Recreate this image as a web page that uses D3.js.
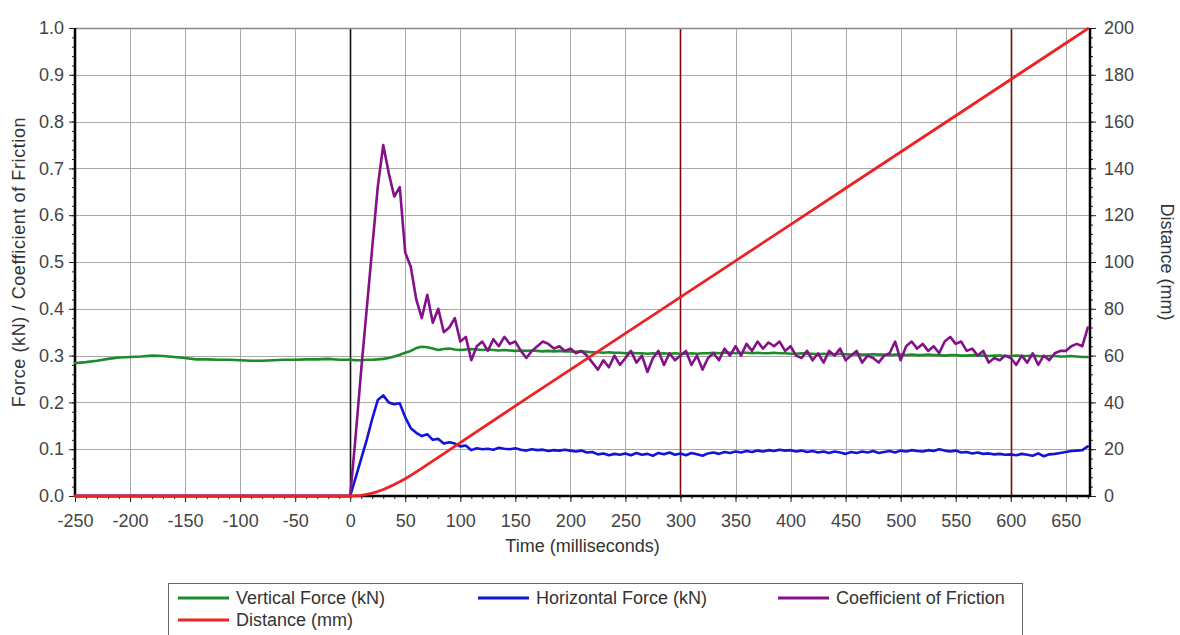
<!DOCTYPE html>
<html>
<head>
<meta charset="utf-8">
<script src="https://cdn.jsdelivr.net/npm/d3@7"></script>
<style>
  html, body { margin: 0; padding: 0; background: #fff; }
  svg { display: block; font-family: "Liberation Sans", Arial, sans-serif; }
</style>
</head>
<body>
<svg id="chart" width="1180" height="635"></svg>
<script>
// Sample times (ms) shared by the force and friction traces
const timeMs = [
  -250,-240,-230,-220,-210,-200,-190,-180,-170,-160,-150,-140,-130,-120,-110,-100,-90,-80,-70,-60,-50,-40,-30,-20,-10,
  0,
  5,10,15,20,25,30,35,40,45,50,55,60,65,70,75,80,85,90,95,100,
  105,110,115,120,125,130,135,140,145,150,155,160,165,170,175,180,185,190,195,200,
  205,210,215,220,225,230,235,240,245,250,255,260,265,270,275,280,285,290,295,300,
  305,310,315,320,325,330,335,340,345,350,355,360,365,370,375,380,385,390,395,400,
  405,410,415,420,425,430,435,440,445,450,455,460,465,470,475,480,485,490,495,500,
  505,510,515,520,525,530,535,540,545,550,555,560,565,570,575,580,585,590,595,600,
  605,610,615,620,625,630,635,640,645,650,655,660,665,670
];

// Vertical force (kN)
const verticalForce = [
  0.284,0.286,0.289,0.293,0.296,0.297,0.298,0.300,0.299,0.297,0.295,0.292,0.292,0.291,0.291,0.290,0.289,0.289,0.290,0.291,0.291,0.292,0.292,0.293,0.291,
  0.291,
  0.290,0.290,0.291,0.291,0.292,0.293,0.295,0.298,0.302,0.306,0.310,0.316,0.319,0.318,0.315,0.312,0.314,0.315,0.313,0.312,
  0.313,0.314,0.313,0.312,0.313,0.312,0.311,0.312,0.311,0.310,0.311,0.310,0.311,0.310,0.309,0.310,0.309,0.310,0.309,0.309,
  0.308,0.309,0.308,0.307,0.307,0.306,0.307,0.306,0.306,0.305,0.306,0.305,0.305,0.304,0.305,0.304,0.305,0.304,0.305,0.304,
  0.304,0.305,0.304,0.305,0.305,0.306,0.305,0.306,0.306,0.305,0.306,0.306,0.305,0.306,0.305,0.305,0.306,0.305,0.305,0.304,
  0.304,0.305,0.304,0.304,0.303,0.304,0.303,0.303,0.304,0.303,0.302,0.303,0.302,0.302,0.303,0.302,0.302,0.301,0.302,0.302,
  0.301,0.302,0.301,0.301,0.302,0.301,0.301,0.300,0.301,0.301,0.300,0.300,0.301,0.300,0.300,0.299,0.300,0.300,0.299,0.299,
  0.300,0.299,0.299,0.300,0.299,0.298,0.299,0.299,0.298,0.298,0.299,0.298,0.297,0.297
];

// Horizontal force (kN)
const horizontalForce = [
  0,0,0,0,0,0,0,0,0,0,0,0,0,0,0,0,0,0,0,0,0,0,0,0,0,
  0,
  0.040,0.080,0.120,0.165,0.205,0.215,0.200,0.196,0.198,0.168,0.145,0.135,0.128,0.132,0.120,0.122,0.112,0.115,0.112,0.106,
  0.108,0.098,0.102,0.100,0.101,0.099,0.103,0.101,0.100,0.102,0.099,0.097,0.100,0.098,0.099,0.096,0.098,0.097,0.099,0.097,
  0.095,0.097,0.093,0.094,0.089,0.091,0.087,0.090,0.088,0.091,0.087,0.092,0.088,0.090,0.086,0.092,0.089,0.093,0.088,0.091,
  0.087,0.092,0.089,0.086,0.091,0.093,0.090,0.094,0.092,0.095,0.093,0.096,0.094,0.097,0.095,0.098,0.096,0.099,0.097,0.098,
  0.095,0.097,0.094,0.096,0.093,0.095,0.092,0.095,0.093,0.090,0.094,0.092,0.095,0.093,0.096,0.092,0.094,0.096,0.093,0.097,
  0.095,0.098,0.096,0.095,0.098,0.096,0.100,0.097,0.095,0.097,0.093,0.094,0.091,0.093,0.090,0.091,0.089,0.090,0.088,0.089,
  0.087,0.090,0.088,0.086,0.091,0.085,0.089,0.090,0.092,0.094,0.096,0.097,0.098,0.106
];

// Coefficient of friction
const frictionCoef = [
  0,0,0,0,0,0,0,0,0,0,0,0,0,0,0,0,0,0,0,0,0,0,0,0,0,
  0,
  0.13,0.27,0.40,0.53,0.66,0.75,0.69,0.64,0.66,0.52,0.49,0.42,0.38,0.43,0.37,0.40,0.35,0.36,0.38,0.33,
  0.34,0.29,0.32,0.33,0.31,0.335,0.32,0.34,0.325,0.33,0.31,0.295,0.31,0.32,0.33,0.325,0.315,0.32,0.31,0.315,
  0.305,0.31,0.30,0.285,0.27,0.29,0.275,0.30,0.28,0.295,0.31,0.285,0.30,0.265,0.295,0.31,0.28,0.305,0.29,0.30,
  0.31,0.28,0.30,0.27,0.295,0.305,0.29,0.315,0.30,0.32,0.30,0.325,0.31,0.33,0.315,0.328,0.32,0.33,0.31,0.32,
  0.30,0.295,0.31,0.29,0.305,0.285,0.31,0.30,0.315,0.29,0.30,0.31,0.285,0.30,0.295,0.285,0.30,0.305,0.33,0.29,
  0.32,0.33,0.315,0.325,0.31,0.32,0.305,0.33,0.34,0.325,0.33,0.31,0.315,0.30,0.31,0.285,0.295,0.29,0.30,0.295,
  0.28,0.30,0.285,0.305,0.28,0.30,0.29,0.305,0.31,0.31,0.32,0.325,0.32,0.36
];

// Distance travelled (mm) on its own time base
const distanceTimeMs = [-250,0,5,10,15,20,25,30,35,40,45,50,55,60,65,70,80,100,150,200,250,300,350,400,450,500,550,600,650,670];
const distanceMm     = [0,0,0.1,0.3,0.7,1.2,1.9,2.8,3.8,4.9,6.1,7.4,8.8,10.3,11.8,13.4,16.5,22.8,38.5,54,69.5,85,100.5,116,131.5,147,162.5,178,193.5,199.7];

// Axis ticks and marker times
const timeTicks = [-250,-200,-150,-100,-50,0,50,100,150,200,250,300,350,400,450,500,550,600,650];
const forceTicks = [0,0.1,0.2,0.3,0.4,0.5,0.6,0.7,0.8,0.9,1.0];
const distanceTicks = [0,20,40,60,80,100,120,140,160,180,200];
const markerTimes = [0,300,600];

const legendItems = [
  { label: "Vertical Force (kN)", color: "#1f8a2a" },
  { label: "Horizontal Force (kN)", color: "#1414d8" },
  { label: "Coefficient of Friction", color: "#85118a" },
  { label: "Distance (mm)", color: "#ee2222" }
];

const svg = d3.select("#chart");
const W = 1180, H = 635;
const L = 75, R = 1090, T = 28, B = 496;

svg.append("rect").attr("width", W).attr("height", H).attr("fill", "#fff");

const x = d3.scaleLinear().domain([-250, 672]).range([L, R]);
const yF = d3.scaleLinear().domain([0, 1]).range([B, T]);
const yD = d3.scaleLinear().domain([0, 200]).range([B, T]);

// Grid
const grid = svg.append("g").attr("stroke", "#a8a8a8").attr("stroke-width", 1);
grid.selectAll("line.v").data(timeTicks.filter(t => t > -250 && markerTimes.indexOf(t) < 0))
  .enter().append("line")
  .attr("x1", d => Math.round(x(d)) + 0.5).attr("x2", d => Math.round(x(d)) + 0.5)
  .attr("y1", T).attr("y2", B);
grid.selectAll("line.h").data(forceTicks.filter(v => v > 0))
  .enter().append("line")
  .attr("x1", L).attr("x2", R)
  .attr("y1", d => Math.round(yF(d)) + 0.5).attr("y2", d => Math.round(yF(d)) + 0.5);

// Event markers
svg.append("g").selectAll("line").data(markerTimes).enter().append("line")
  .attr("x1", d => Math.round(x(d)) + 0.5).attr("x2", d => Math.round(x(d)) + 0.5)
  .attr("y1", T).attr("y2", B)
  .attr("stroke", d => d === 0 ? "#111" : "#7a0a0a")
  .attr("stroke-width", 1.6);

// Axes
const tickStyle = g => {
  g.select(".domain").remove();
  g.selectAll("text").attr("fill", "#444").style("font-size", "18px");
  g.selectAll("line").attr("stroke", "#222");
};
const plainInt = d => String(d);   // hyphen-minus for negative times

const xMinor = d3.range(-250, 671, 10);
svg.append("g").attr("transform", `translate(0,${B})`)
  .call(d3.axisBottom(x).tickValues(xMinor).tickSize(3).tickFormat(""))
  .call(tickStyle);
svg.append("g").attr("transform", `translate(0,${B})`)
  .call(d3.axisBottom(x).tickValues(timeTicks).tickSize(6).tickPadding(12).tickFormat(plainInt))
  .call(tickStyle);

svg.append("g").attr("transform", `translate(${L},0)`)
  .call(d3.axisLeft(yF).tickValues(d3.range(0, 1.001, 0.02)).tickSize(3).tickFormat(""))
  .call(tickStyle);
svg.append("g").attr("transform", `translate(${L},0)`)
  .call(d3.axisLeft(yF).tickValues(forceTicks).tickSize(6).tickPadding(5).tickFormat(d3.format(".1f")))
  .call(tickStyle);

svg.append("g").attr("transform", `translate(${R},0)`)
  .call(d3.axisRight(yD).tickValues(d3.range(0, 201, 4)).tickSize(3).tickFormat(""))
  .call(tickStyle);
svg.append("g").attr("transform", `translate(${R},0)`)
  .call(d3.axisRight(yD).tickValues(distanceTicks).tickSize(6).tickPadding(8).tickFormat(plainInt))
  .call(tickStyle);

// Frame
svg.append("line").attr("x1", L).attr("x2", R).attr("y1", T + 0.5).attr("y2", T + 0.5)
  .attr("stroke", "#888").attr("stroke-width", 1.5);
svg.append("line").attr("x1", L).attr("x2", L).attr("y1", T).attr("y2", B + 1)
  .attr("stroke", "#000").attr("stroke-width", 2.5);
svg.append("line").attr("x1", R).attr("x2", R).attr("y1", T).attr("y2", B + 1)
  .attr("stroke", "#000").attr("stroke-width", 2.5);
svg.append("line").attr("x1", L).attr("x2", R + 1).attr("y1", B).attr("y2", B)
  .attr("stroke", "#000").attr("stroke-width", 2.5);

// Traces
const plot = svg.append("g").attr("fill", "none").attr("stroke-linejoin", "round").attr("stroke-linecap", "round");
const forceLine = arr => d3.line().x((d, i) => x(timeMs[i])).y(d => yF(d))(arr);

plot.append("path").attr("d", forceLine(verticalForce))
  .attr("stroke", legendItems[0].color).attr("stroke-width", 2.6);
plot.append("path").attr("d", forceLine(horizontalForce))
  .attr("stroke", legendItems[1].color).attr("stroke-width", 2.6);
plot.append("path").attr("d", forceLine(frictionCoef))
  .attr("stroke", legendItems[2].color).attr("stroke-width", 2.6);
plot.append("path")
  .attr("d", d3.line().x((d, i) => x(distanceTimeMs[i])).y(d => yD(d))(distanceMm))
  .attr("stroke", legendItems[3].color).attr("stroke-width", 2.8);

// Axis titles
const titleStyle = sel => sel.attr("fill", "#333").style("font-size", "18px").attr("text-anchor", "middle");
svg.append("text").text("Time (milliseconds)")
  .attr("x", (L + R) / 2).attr("y", 552).call(titleStyle);
svg.append("text").text("Force (kN) / Coefficient of Friction")
  .attr("transform", `translate(25,${(T + B) / 2}) rotate(-90)`)
  .style("letter-spacing", "0.6px").call(titleStyle);
svg.append("text").text("Distance (mm)")
  .attr("transform", `translate(1161,${(T + B) / 2}) rotate(90)`).call(titleStyle);

// Legend
const legend = svg.append("g");
legend.append("rect").attr("x", 168.5).attr("y", 583.5).attr("width", 854).attr("height", 70)
  .attr("fill", "#fff").attr("stroke", "#666").attr("stroke-width", 1);
const legendPos = [
  { lx: 178, ly: 598 }, { lx: 478, ly: 598 }, { lx: 778, ly: 598 }, { lx: 178, ly: 620 }
];
legendItems.forEach((item, i) => {
  const p = legendPos[i];
  legend.append("line").attr("x1", p.lx).attr("x2", p.lx + 51).attr("y1", p.ly).attr("y2", p.ly)
    .attr("stroke", item.color).attr("stroke-width", 3);
  legend.append("text").text(item.label)
    .attr("x", p.lx + 58).attr("y", p.ly).attr("dy", "0.35em")
    .attr("fill", "#333").style("font-size", "18px");
});
</script>
</body>
</html>
